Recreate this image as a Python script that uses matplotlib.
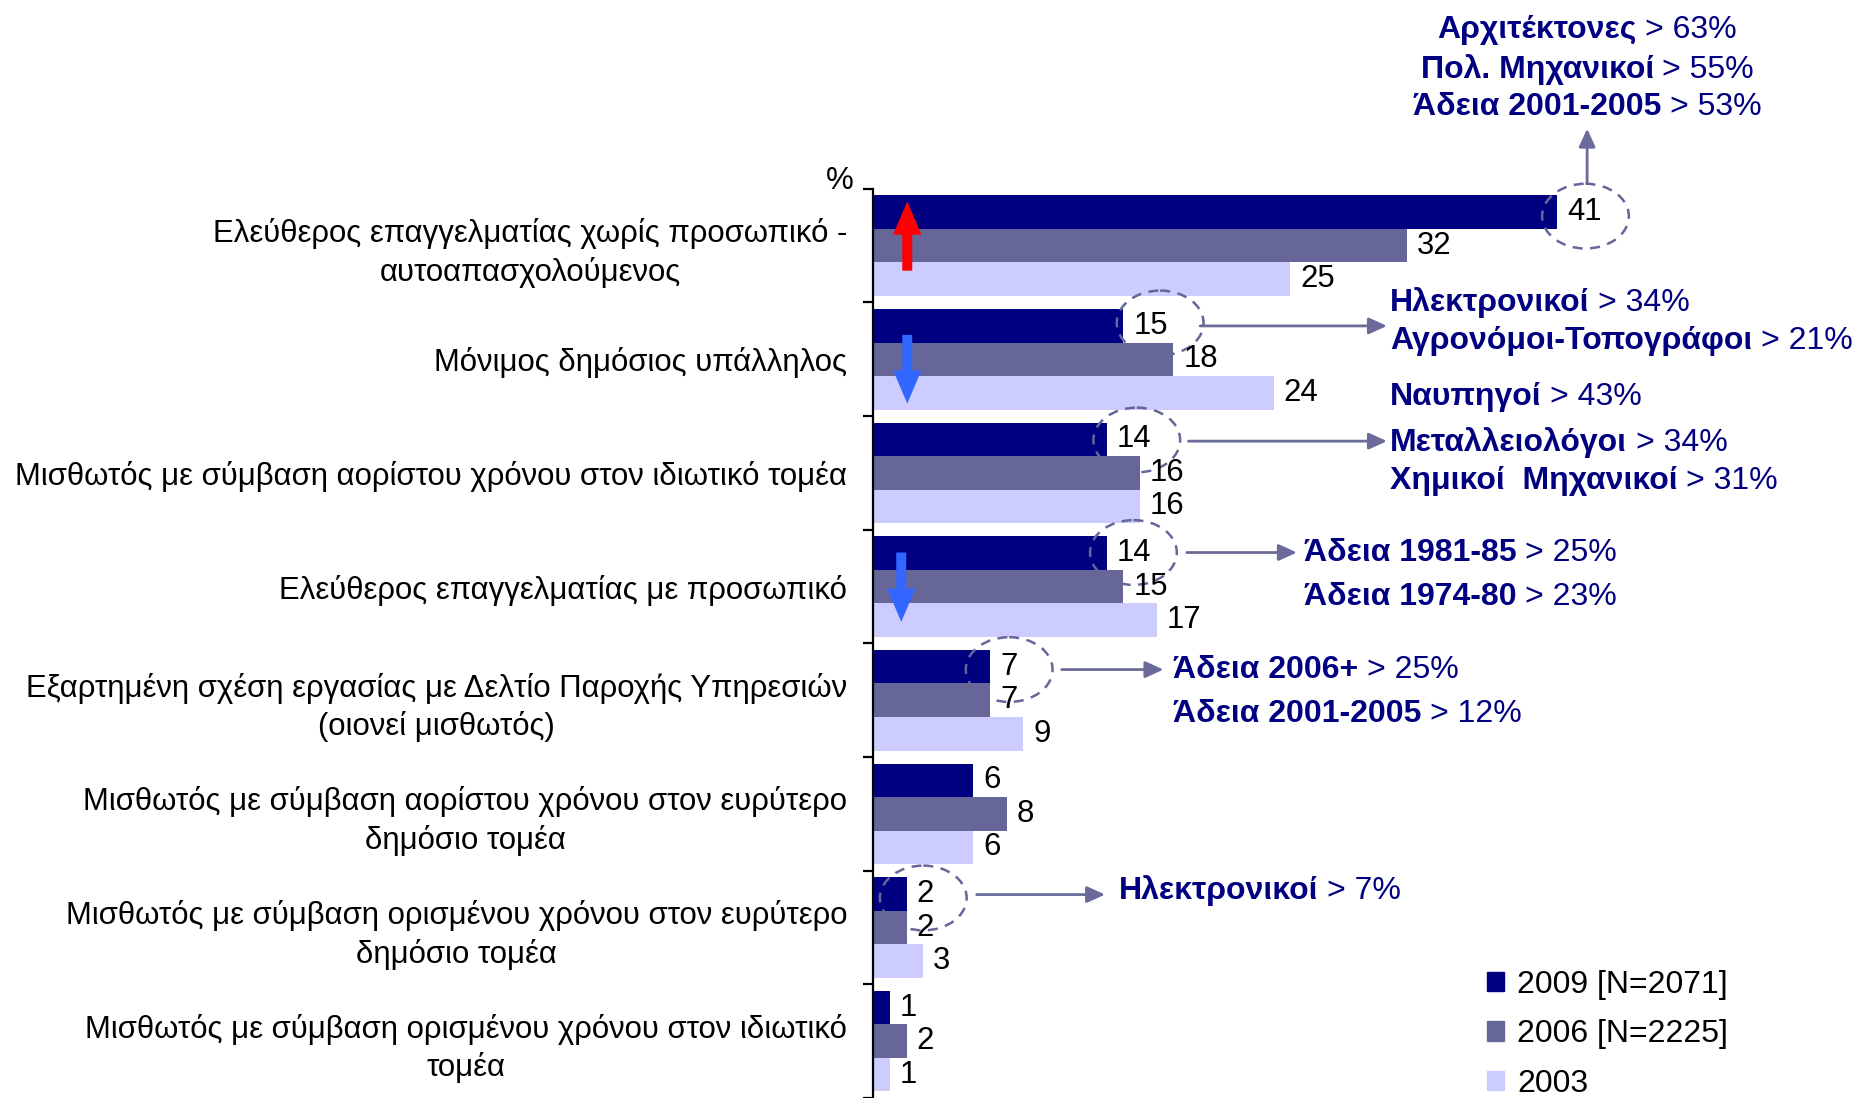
import matplotlib
matplotlib.use("Agg")
import matplotlib.pyplot as plt
from matplotlib.patches import Ellipse, Patch
from matplotlib.offsetbox import TextArea, HPacker, AnnotationBbox
import numpy as np

plt.rcParams['font.family'] = ['Liberation Sans', 'DejaVu Sans']

categories = [
    "Ελεύθερος επαγγελματίας χωρίς προσωπικό -\nαυτοαπασχολούμενος",
    "Μόνιμος δημόσιος υπάλληλος",
    "Μισθωτός με σύμβαση αορίστου χρόνου στον ιδιωτικό τομέα",
    "Ελεύθερος επαγγελματίας με προσωπικό",
    "Εξαρτημένη σχέση εργασίας με Δελτίο Παροχής Υπηρεσιών\n(οιονεί μισθωτός)",
    "Μισθωτός με σύμβαση αορίστου χρόνου στον ευρύτερο\nδημόσιο τομέα",
    "Μισθωτός με σύμβαση ορισμένου χρόνου στον ευρύτερο\nδημόσιο τομέα",
    "Μισθωτός με σύμβαση ορισμένου χρόνου στον ιδιωτικό\nτομέα",
]
v2009 = [41, 15, 14, 14, 7, 6, 2, 1]
v2006 = [32, 18, 16, 15, 7, 8, 2, 2]
v2003 = [25, 24, 16, 17, 9, 6, 3, 1]
series_labels = ["2009 [N=2071]", "2006 [N=2225]", "2003"]

NAVY = "#000080"
MID = "#666699"
LIGHT = "#CCCCFF"
ARROW = "#6B6B9B"
FS = 22.4      # category labels and values
FS_NOTE = 23   # specialty notes and legend

fig = plt.figure(figsize=(18.54, 10.98), dpi=100)
ax = fig.add_axes([0.471, 0.0, 0.529, 0.828])

y = np.arange(len(categories))
h = 0.295
series = [v2009, v2006, v2003]
colors = [NAVY, MID, LIGHT]
for k, (vals, col) in enumerate(zip(series, colors)):
    pos = y + (k - 1) * h
    ax.barh(pos, vals, height=h, color=col, zorder=2)
    for p, v in zip(pos, vals):
        ax.text(v + 0.6, p, str(v), ha='left', va='center', fontsize=FS,
                color='black', zorder=5)

ax.set_xlim(0, 58.8)
ax.set_ylim(7.5, -0.5)
for s in ['top', 'right', 'bottom']:
    ax.spines[s].set_visible(False)
ax.spines['left'].set_linewidth(1.6)
ax.set_xticks([])
ax.set_yticks(np.arange(-0.5, 8.0, 1.0))
ax.set_yticklabels([])
ax.tick_params(axis='y', which='major', length=7, width=1.6, direction='out')
ax.set_yticks(y, minor=True)
ax.set_yticklabels(categories, minor=True, fontsize=FS)
ax.tick_params(axis='y', which='minor', length=0, pad=18.7)
for t in ax.get_yticklabels(minor=True):
    t.set_multialignment('center')
    t.set_linespacing(1.32)

ax.text(-1.98, -0.57, "%", ha='center', va='center', fontsize=FS, clip_on=False)

# dashed rings around the 2009 values
rings = [(42.7, -0.26), (17.2, 0.68), (15.8, 1.71), (15.6, 2.70), (8.15, 3.73), (3.0, 5.74)]
for cx, cy in rings:
    ax.add_patch(Ellipse((cx, cy), 5.2, 0.57, fill=False, edgecolor=MID,
                         linestyle=(0, (4, 3)), linewidth=1.8, zorder=4, clip_on=False))

# thin pointer arrows
pointers = [((42.8, -0.55), (42.8, -1.03)),
            ((19.6, 0.706), (30.8, 0.706)),
            ((18.9, 1.72), (30.8, 1.72)),
            ((18.8, 2.70), (25.4, 2.70)),
            ((11.3, 3.73), (17.4, 3.73)),
            ((6.2, 5.71), (13.9, 5.71))]
for start, end in pointers:
    ax.annotate('', xy=end, xytext=start, annotation_clip=False,
                arrowprops=dict(arrowstyle='-|>,head_length=0.55,head_width=0.25',
                                color=ARROW, lw=2, mutation_scale=20,
                                shrinkA=0, shrinkB=0))

# trend arrows
trends = [((2.04, 0.22), (2.04, -0.39), "#FF0000"),
          ((2.04, 0.785), (2.04, 1.39), "#3366FF"),
          ((1.68, 2.70), (1.68, 3.31), "#3366FF")]
for tail, tip, col in trends:
    ax.annotate('', xy=tip, xytext=tail,
                arrowprops=dict(arrowstyle='simple,head_length=1.0,head_width=0.85,tail_width=0.3',
                                color=col, mutation_scale=24, shrinkA=0, shrinkB=0,
                                linewidth=0), zorder=6)

# specialty notes
notes = [
    ("Αρχιτέκτονες", "> 63%", 42.8, -1.90, 0.5),
    ("Πολ. Μηχανικοί", "> 55%", 42.8, -1.55, 0.5),
    ("Άδεια 2001-2005", "> 53%", 42.8, -1.22, 0.5),
    ("Ηλεκτρονικοί", "> 34%", 31.0, 0.50, 0),
    ("Αγρονόμοι-Τοπογράφοι", "> 21%", 31.0, 0.84, 0),
    ("Ναυπηγοί", "> 43%", 31.0, 1.33, 0),
    ("Μεταλλειολόγοι", "> 34%", 31.0, 1.73, 0),
    ("Χημικοί  Μηχανικοί", "> 31%", 31.0, 2.07, 0),
    ("Άδεια 1981-85", "> 25%", 25.8, 2.70, 0),
    ("Άδεια 1974-80", "> 23%", 25.8, 3.09, 0),
    ("Άδεια 2006+", "> 25%", 18.0, 3.73, 0),
    ("Άδεια 2001-2005", "> 12%", 18.0, 4.12, 0),
    ("Ηλεκτρονικοί", "> 7%", 14.75, 5.67, 0),
]
for bold, rest, nx, ny, ha in notes:
    box = HPacker(children=[
        TextArea(bold, textprops=dict(color=NAVY, fontsize=FS_NOTE, fontweight='bold')),
        TextArea(rest, textprops=dict(color=NAVY, fontsize=FS_NOTE)),
    ], align='baseline', pad=0, sep=6)
    ab = AnnotationBbox(box, (nx, ny), xycoords='data', box_alignment=(ha, 0.5),
                        frameon=False, pad=0, annotation_clip=False)
    ax.add_artist(ab)

handles = [Patch(color=c) for c in colors]
fig.legend(handles, series_labels, loc='upper left', bbox_to_anchor=(0.802, 0.117),
           frameon=False, fontsize=FS_NOTE, handlelength=0.55, handleheight=0.55,
           handletextpad=0.4, labelspacing=0.62, borderpad=0, borderaxespad=0)

fig.savefig("out.png", dpi=100)
